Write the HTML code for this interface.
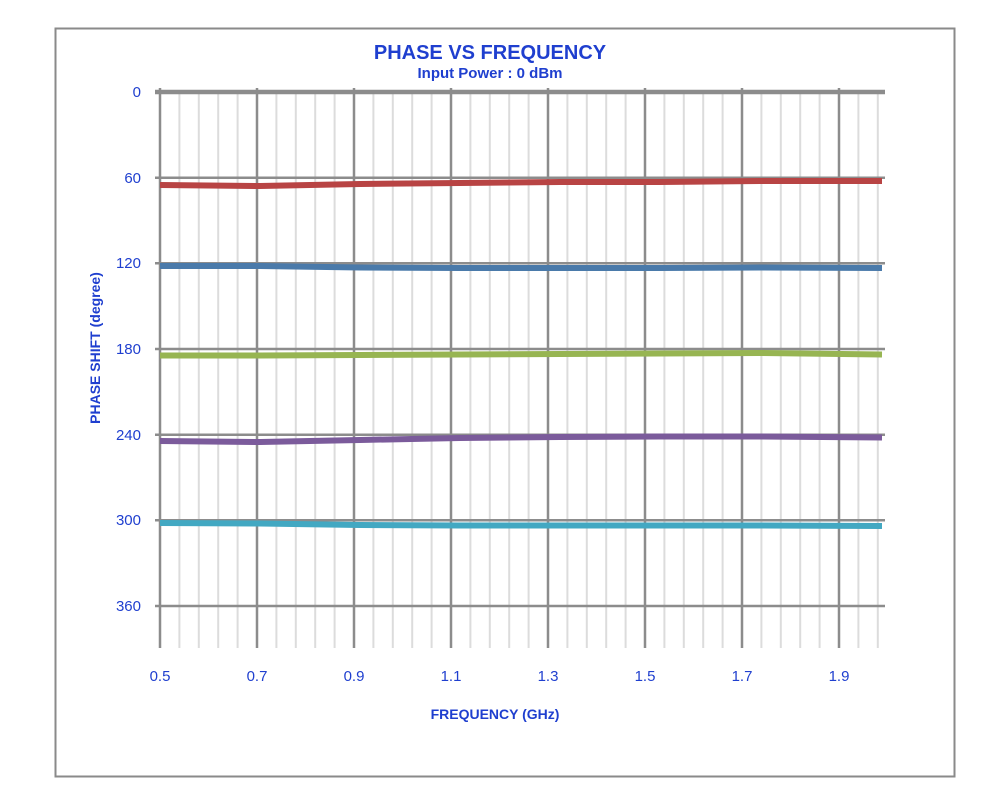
<!DOCTYPE html>
<html><head><meta charset="utf-8"><style>
body{margin:0;background:#fff;}
svg{display:block;font-family:"Liberation Sans",sans-serif;}
</style></head><body>
<svg width="1002" height="802" viewBox="0 0 1002 802">
<rect x="0" y="0" width="1002" height="802" fill="#fff"/>
<rect x="55.5" y="28.5" width="899" height="748" fill="none" stroke="#8a8a8a" stroke-width="2"/>
<g stroke="#dcdcdc" stroke-width="2">
<path d="M179.4 92V648M198.8 92V648M218.2 92V648M237.6 92V648M276.4 92V648M295.8 92V648M315.2 92V648M334.6 92V648M373.4 92V648M392.8 92V648M412.2 92V648M431.6 92V648M470.4 92V648M489.8 92V648M509.2 92V648M528.6 92V648M567.4 92V648M586.8 92V648M606.2 92V648M625.6 92V648M664.4 92V648M683.8 92V648M703.2 92V648M722.6 92V648M761.4 92V648M780.8 92V648M800.2 92V648M819.6 92V648M858.4 92V648M877.8 92V648"/>
</g>
<g stroke="#8c8c8c" stroke-width="2.5">
<path d="M160 88V648M257 88V648M354 88V648M451 88V648M548 88V648M645 88V648M742 88V648M839 88V648"/>
<path d="M155 177.7H885M155 263.3H885M155 349H885M155 434.7H885M155 520.3H885M155 606H885"/>
</g>
<path d="M155 92H885" stroke="#8c8c8c" stroke-width="4.5"/>
<g fill="none" stroke-width="6" stroke-linecap="butt">
<path d="M160 185L260 186L360 184L460 183L560 182L660 182L760 181L882 181" stroke="#b84444"/>
<path d="M160 266L260 266L360 267.5L460 268L560 268L660 268L760 267.5L882 268" stroke="#4a7aaa"/>
<path d="M160 355.5L260 355.5L360 355L460 354.5L560 354L660 353.5L760 353L882 354.5" stroke="#97b552"/>
<path d="M160 441L260 442L360 440L460 438L560 437L660 436.5L760 436.5L882 437.5" stroke="#7b5b9b"/>
<path d="M160 523L260 523.5L360 525L460 525.5L560 525.5L660 525.5L760 525.5L882 526" stroke="#42a8c2"/>
</g>
<g fill="#1f3fcf" font-size="15" text-anchor="end">
<text x="141" y="97">0</text><text x="141" y="183">60</text><text x="141" y="268">120</text><text x="141" y="354">180</text><text x="141" y="440">240</text><text x="141" y="525">300</text><text x="141" y="611">360</text>
</g>
<g fill="#1f3fcf" font-size="15" text-anchor="middle">
<text x="160" y="681">0.5</text><text x="257" y="681">0.7</text><text x="354" y="681">0.9</text><text x="451" y="681">1.1</text><text x="548" y="681">1.3</text><text x="645" y="681">1.5</text><text x="742" y="681">1.7</text><text x="839" y="681">1.9</text>
</g>
<text x="490" y="59" fill="#1f3fcf" font-size="20" font-weight="bold" text-anchor="middle">PHASE VS FREQUENCY</text>
<text x="490" y="78" fill="#1f3fcf" font-size="15" font-weight="bold" text-anchor="middle">Input Power : 0 dBm</text>
<text x="495" y="719" fill="#1f3fcf" font-size="14" font-weight="bold" text-anchor="middle">FREQUENCY (GHz)</text>
<text transform="translate(100,348) rotate(-90)" fill="#1f3fcf" font-size="14" font-weight="bold" text-anchor="middle">PHASE SHIFT (degree)</text>
</svg>
</body></html>
